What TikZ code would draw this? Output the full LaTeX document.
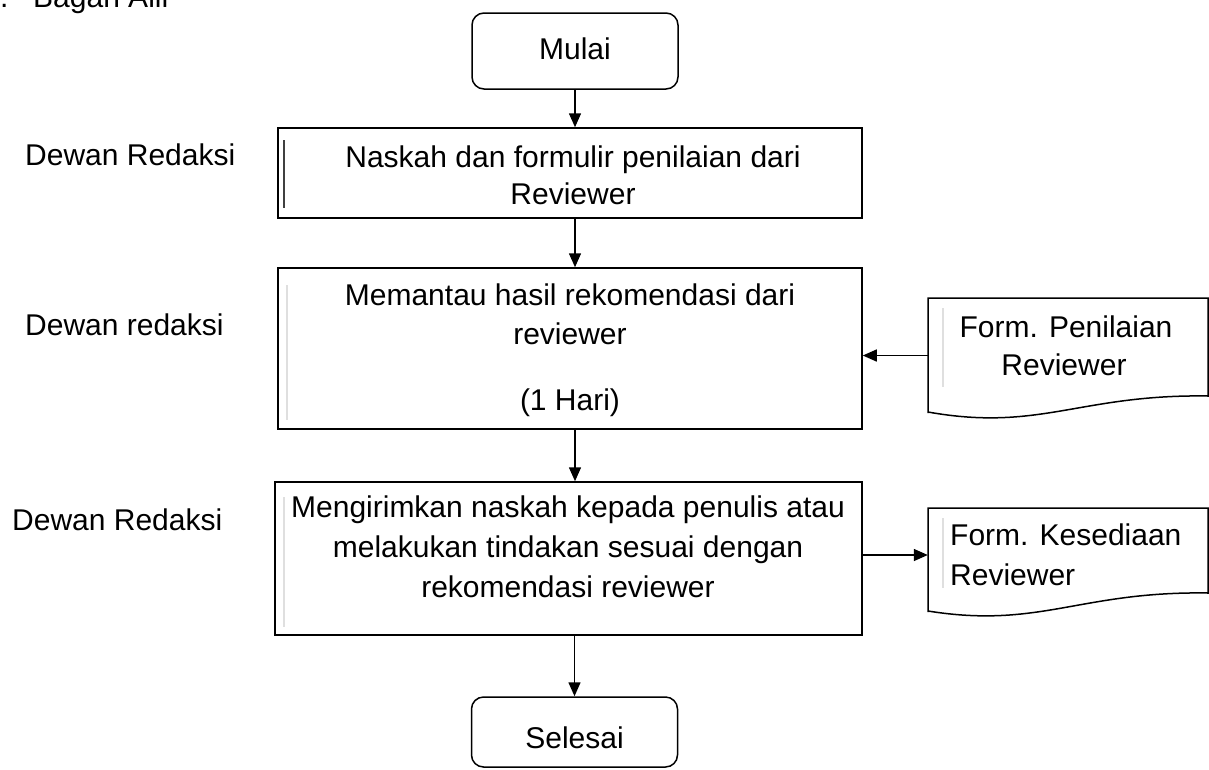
\documentclass[tikz,border=0pt]{standalone}
\usepackage{fontspec}
\setmainfont{Liberation Sans}
\usetikzlibrary{arrows.meta}
\begin{document}
\begin{tikzpicture}[x=1pt,y=-1pt,
  procbox/.style={draw,line width=1.5pt,rectangle,inner sep=0pt},
  termbox/.style={draw,line width=1.5pt,rectangle,rounded corners=12pt,inner sep=0pt,minimum width=206pt},
  anchorbox/.style={rectangle,inner sep=0pt},
  docline/.style={line width=1.5pt,line join=miter},
  ghost/.style={line width=2pt,draw=gray!25},
  txt/.style={font=\fontsize{30}{36}\selectfont,inner sep=0pt,text height=21.5pt,text depth=0pt},
  arr/.style={line width=1.5pt,-{Triangle[length=14pt,width=12pt]}}]
\useasboundingbox (0,0) rectangle (1209,769);
\clip (0,0) rectangle (1209,769);
\fill[white] (0,0) rectangle (1209,769);

% title (cut off at the top)
\node[txt,anchor=base west] (dot) at (0,7) {.};
\node[txt,anchor=base west] (title) at (33,7) {Bagan Alir};

% terminals
\node[termbox,minimum height=76pt] (m) at (575,51) {};
\node[txt] (mt) at (575,49) {Mulai};
\node[termbox,minimum height=70pt] (s) at (574.5,732) {};
\node[txt] (st) at (574.5,738) {Selesai};

% process boxes
\node[procbox,minimum width=584pt,minimum height=90pt] (b1) at (570,173) {};
\node[procbox,minimum width=584pt,minimum height=161pt] (b2) at (570,348.5) {};
\node[procbox,minimum width=587pt,minimum height=153pt] (b3) at (568.5,558.5) {};
\draw[line width=1.5pt,black!75] (284,140) -- (284,208);
\draw[ghost] (287,285) -- (287,420);
\draw[ghost] (284,497) -- (284,627);

\node[txt] (b1a) at (573,157) {Naskah dan formulir penilaian dari};
\node[txt] (b1b) at (573,194) {Reviewer};
\node[txt] (b2a) at (570,295) {Memantau hasil rekomendasi dari};
\node[txt] (b2b) at (570,334) {reviewer};
\node[txt] (b2c) at (570,400) {(1 Hari)};
\node[txt] (b3a) at (568,507) {Mengirimkan naskah kepada penulis atau};
\node[txt] (b3b) at (568,547) {melakukan tindakan sesuai dengan};
\node[txt] (b3c) at (568,587) {rekomendasi reviewer};

% documents
\node[anchorbox,minimum width=280pt,minimum height=115pt] (d1) at (1068,355.5) {};
\draw[docline] (928,413) -- (928,298) -- (1208,298) -- (1208,396)
  .. controls (1080,394) and (1040,432) .. (928,412);
\draw[ghost] (943,308) -- (943,387);
\node[txt] (d1a) at (1066,327) {Form. Penilaian};
\node[txt] (d1b) at (1064,365) {Reviewer};

\node[anchorbox,minimum width=280pt,minimum height=104pt] (d2) at (1068,560) {};
\draw[docline] (928,612) -- (928,508) -- (1208,508) -- (1208,593)
  .. controls (1080,591) and (1040,629) .. (928,611);
\draw[ghost] (943,518) -- (943,588);
\node[txt,anchor=west] (d2a) at (950,535) {Form. Kesediaan};
\node[txt,anchor=west] (d2b) at (950,575) {Reviewer};

% left labels
\node[txt,anchor=west] (l1) at (25,155) {Dewan Redaksi};
\node[txt,anchor=west] (l2) at (25,325) {Dewan redaksi};
\node[txt,anchor=west] (l3) at (12,520) {Dewan Redaksi};

% connectors
\draw[arr] (m.south) -- (m.south |- b1.north);
\draw[arr] (m.south |- b1.south) -- (m.south |- b2.north);
\draw[arr] (b2.south -| m.south) -- (m.south |- b3.north);
\draw[arr] (b3.south -| s.north) -- (s.north);
\draw[arr] (d1.west) -- (b2.east |- d1.west);
\draw[arr] (b3.east |- 0,555) -- (d2.west |- 0,555);
\end{tikzpicture}
\end{document}
